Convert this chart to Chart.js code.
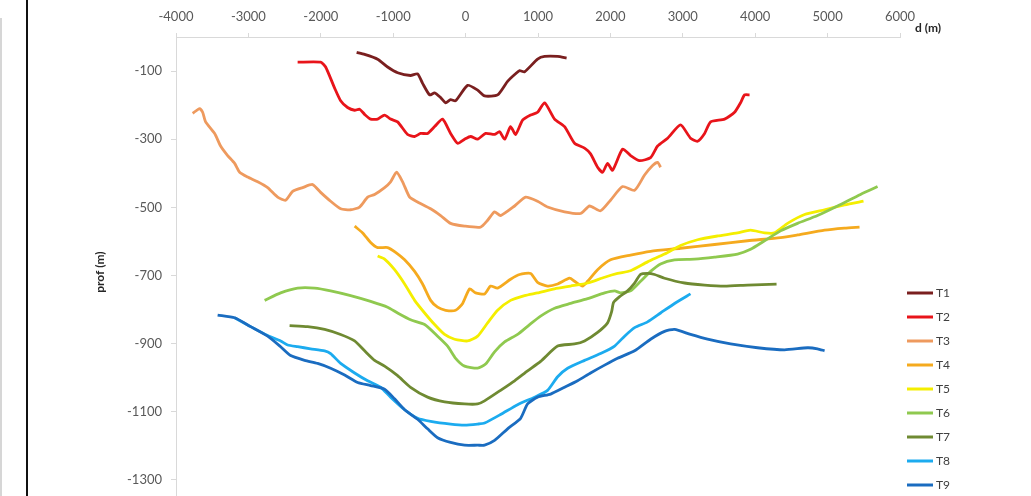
<!DOCTYPE html>
<html>
<head>
<meta charset="utf-8">
<title>Perfiles T1-T9</title>
<script src="https://cdn.jsdelivr.net/npm/chart.js@4.4.0/dist/chart.umd.min.js"></script>
<style>
    html, body { margin: 0; padding: 0; background: #fff; overflow: hidden; }
    #wrap { position: relative; width: 1031px; height: 524px; }
    #wrap canvas { position: absolute; left: 0; top: 0; }
    .rule-gray { position: absolute; left: 0; top: 18px; width: 2px; height: 506px; background: #d6d6d6; }
    .rule-black { position: absolute; left: 26px; top: 0; width: 2px; height: 524px; background: #111; }
</style>
</head>
<body>
<div id="wrap">
    <canvas id="profiles" width="1031" height="524"></canvas>
    <div class="rule-gray"></div>
    <div class="rule-black"></div>
</div>
<script>
// distancia d (m) y profundidad (m) de cada perfil
const t1Dist = [-1505, -1395, -1215, -1077, -939, -760, -663, -594, -497, -428, -345, -276, -207, -138, 28, 166, 262, 442, 580, 690, 746, 815, 994, 1091, 1271, 1395];
const t1Prof = [-45, -51, -65, -88, -105, -113, -108, -136, -170, -164, -178, -193, -184, -187, -142, -156, -173, -170, -130, -108, -99, -102, -65, -57, -57, -62];

const t2Dist = [-2320, -2002, -1933, -1809, -1726, -1630, -1533, -1464, -1395, -1312, -1215, -1119, -1036, -939, -801, -704, -621, -525, -428, -318, -207, -110, -14, 69, 166, 276, 400, 470, 539, 621, 690, 787, 898, 994, 1091, 1229, 1367, 1505, 1643, 1726, 1823, 1892, 1961, 2030, 2168, 2279, 2403, 2555, 2652, 2790, 2969, 3107, 3204, 3301, 3384, 3577, 3715, 3798, 3853, 3922];
const t2Prof = [-74, -74, -88, -150, -187, -207, -215, -212, -227, -241, -241, -229, -241, -249, -286, -292, -283, -283, -263, -241, -283, -312, -300, -292, -300, -283, -286, -278, -300, -263, -286, -244, -229, -221, -193, -241, -263, -312, -326, -343, -382, -397, -371, -391, -329, -348, -363, -354, -320, -297, -258, -297, -306, -283, -249, -241, -221, -193, -170, -170];

const t3Dist = [-3770, -3673, -3632, -3591, -3466, -3384, -3287, -3190, -3121, -3011, -2872, -2734, -2596, -2486, -2389, -2251, -2113, -2002, -1864, -1726, -1588, -1464, -1353, -1257, -1119, -1036, -953, -870, -773, -663, -483, -345, -207, -14, 207, 304, 400, 483, 677, 829, 994, 1132, 1367, 1588, 1712, 1864, 2002, 2168, 2334, 2472, 2583, 2652, 2693];
const t3Prof = [-224, -210, -221, -249, -283, -320, -348, -371, -397, -411, -425, -442, -470, -479, -453, -442, -433, -456, -482, -504, -507, -499, -470, -462, -442, -425, -397, -425, -470, -484, -504, -524, -547, -555, -558, -538, -513, -524, -496, -470, -482, -499, -513, -518, -496, -510, -479, -439, -450, -405, -377, -368, -382];

const t4Dist = [-1533, -1422, -1312, -1215, -1077, -967, -842, -704, -594, -483, -387, -276, -138, -41, 55, 138, 262, 345, 442, 621, 746, 898, 994, 1132, 1271, 1436, 1505, 1616, 1685, 1823, 2002, 2279, 2555, 2969, 3439, 3894, 4350, 4585, 4958, 5234, 5441];
const t4Prof = [-555, -575, -603, -618, -618, -632, -654, -688, -725, -773, -793, -802, -802, -782, -739, -751, -754, -731, -737, -711, -697, -694, -720, -731, -725, -708, -717, -731, -717, -683, -654, -640, -629, -620, -609, -598, -589, -581, -567, -561, -558];

const t5Dist = [-1215, -1119, -981, -842, -704, -566, -428, -290, -152, 28, 166, 304, 442, 621, 815, 994, 1229, 1450, 1685, 1920, 2099, 2279, 2513, 2748, 2969, 3204, 3480, 3756, 3936, 4129, 4267, 4447, 4682, 4958, 5234, 5496];
const t5Prof = [-643, -652, -683, -725, -773, -810, -844, -873, -887, -892, -878, -839, -802, -773, -759, -751, -739, -731, -722, -705, -694, -686, -660, -637, -612, -595, -584, -575, -567, -575, -575, -547, -521, -507, -493, -482];

const t6Dist = [-2776, -2555, -2320, -2085, -1864, -1588, -1312, -1077, -939, -760, -566, -387, -249, -138, -14, 166, 276, 400, 539, 718, 884, 1036, 1229, 1450, 1685, 1920, 2058, 2141, 2279, 2417, 2555, 2693, 2886, 3162, 3439, 3756, 3936, 4129, 4350, 4585, 4861, 5137, 5455, 5690];
const t6Prof = [-773, -751, -737, -737, -745, -759, -776, -793, -810, -830, -844, -878, -907, -943, -966, -972, -960, -924, -895, -873, -844, -819, -796, -782, -768, -751, -745, -751, -745, -717, -688, -666, -654, -652, -646, -637, -623, -598, -569, -547, -524, -496, -462, -439];

const t7Dist = [-2431, -2182, -1947, -1726, -1533, -1395, -1257, -1119, -939, -760, -525, -290, -14, 166, 262, 483, 677, 856, 1036, 1271, 1505, 1643, 1823, 1961, 2016, 2044, 2127, 2237, 2334, 2417, 2513, 2610, 2748, 3024, 3301, 3577, 3894, 4295];
const t7Prof = [-847, -850, -858, -873, -892, -921, -949, -966, -994, -1028, -1057, -1071, -1077, -1077, -1068, -1037, -1009, -980, -952, -907, -901, -892, -867, -839, -807, -779, -762, -745, -722, -697, -694, -697, -708, -722, -728, -731, -728, -725];

const t8Dist = [-3190, -2969, -2734, -2555, -2458, -2320, -2141, -1947, -1864, -1726, -1533, -1353, -1174, -1036, -842, -663, -483, -207, -14, 166, 262, 483, 718, 953, 1132, 1271, 1409, 1643, 1864, 2058, 2196, 2334, 2513, 2693, 2886, 3107];
const t8Prof = [-824, -850, -876, -892, -904, -909, -915, -921, -929, -958, -986, -1009, -1028, -1057, -1094, -1119, -1128, -1136, -1139, -1136, -1133, -1108, -1079, -1057, -1037, -997, -972, -949, -929, -907, -878, -853, -836, -810, -782, -754];

const t9Dist = [-3425, -3190, -2969, -2734, -2555, -2417, -2223, -2044, -1864, -1671, -1491, -1312, -1119, -981, -842, -663, -525, -387, -207, -14, 166, 262, 400, 580, 760, 856, 994, 1174, 1367, 1547, 1726, 1920, 2099, 2334, 2555, 2748, 2886, 3107, 3342, 3660, 4033, 4405, 4723, 4861, 4958];
const t9Prof = [-816, -824, -850, -878, -909, -935, -949, -958, -972, -992, -1014, -1023, -1034, -1062, -1094, -1122, -1150, -1176, -1190, -1198, -1198, -1198, -1184, -1150, -1119, -1077, -1057, -1048, -1028, -1009, -986, -963, -943, -921, -887, -864, -858, -873, -887, -901, -912, -918, -912, -915, -921];

const seriesNames = ['T1', 'T2', 'T3', 'T4', 'T5', 'T6', 'T7', 'T8', 'T9'];
const seriesDist = [t1Dist, t2Dist, t3Dist, t4Dist, t5Dist, t6Dist, t7Dist, t8Dist, t9Dist];
const seriesProf = [t1Prof, t2Prof, t3Prof, t4Prof, t5Prof, t6Prof, t7Prof, t8Prof, t9Prof];
const seriesColors = ['#7a1f1f', '#e8141a', '#ee9a5e', '#f5aa1e', '#f4ee00', '#8fc94f', '#6f8a32', '#1cabef', '#1a6cc0'];

const distTicks = [-4000, -3000, -2000, -1000, 0, 1000, 2000, 3000, 4000, 5000, 6000];
const profTicks = [-100, -300, -500, -700, -900, -1100, -1300];

const fontFamily = 'Lato, "Open Sans", sans-serif';
const labelFont = { family: fontFamily, size: 13 };

// leyenda vertical a la derecha del area de trazado
const sideLegend = {
    id: 'sideLegend',
    afterDraw(chart) {
        const ctx = chart.ctx;
        const x0 = chart.chartArea.right + 7;
        ctx.save();
        ctx.font = '12px ' + fontFamily;
        ctx.textBaseline = 'middle';
        ctx.textAlign = 'left';
        chart.data.datasets.forEach((ds, i) => {
            const y = 293 + i * 24;
            ctx.strokeStyle = ds.borderColor;
            ctx.lineWidth = 3;
            ctx.beginPath();
            ctx.moveTo(x0, y);
            ctx.lineTo(x0 + 26, y);
            ctx.stroke();
            ctx.fillStyle = '#404040';
            ctx.fillText(ds.label, x0 + 29, y);
        });
        // titulo del eje x, al final del eje superior
        ctx.font = 'bold 12px ' + fontFamily;
        ctx.fillStyle = '#262626';
        ctx.fillText('d (m)', chart.chartArea.right + 15, 28);
        ctx.restore();
    }
};

const datasets = seriesNames.map((name, i) => ({
    label: name,
    data: seriesDist[i].map((d, j) => ({ x: d, y: seriesProf[i][j] })),
    borderColor: seriesColors[i],
    backgroundColor: seriesColors[i],
    borderWidth: 2.8,
    pointRadius: 0,
    tension: 0.2,
    showLine: true,
    fill: false,
    order: seriesNames.length - i
}));

new Chart(document.getElementById('profiles').getContext('2d'), {
    type: 'scatter',
    data: { datasets: datasets },
    options: {
        responsive: false,
        animation: false,
        layout: { padding: { left: 0, right: 131, top: 0, bottom: 0 } },
        plugins: {
            legend: { display: false },
            tooltip: { enabled: false }
        },
        scales: {
            x: {
                type: 'linear',
                position: 'top',
                min: -4000,
                max: 6000,
                afterFit(scale) { scale.height = 37; },
                afterBuildTicks(scale) { scale.ticks = distTicks.map(v => ({ value: v })); },
                ticks: {
                    color: '#595959',
                    font: labelFont,
                    padding: 8,
                    maxRotation: 0,
                    callback: v => String(v)
                },
                grid: { drawOnChartArea: false, drawTicks: true, tickLength: 4, color: '#d9d9d9' },
                border: { color: '#d9d9d9', width: 1 }
            },
            y: {
                type: 'linear',
                min: -1380,
                max: 0,
                afterFit(scale) { scale.width = 176; },
                afterBuildTicks(scale) { scale.ticks = profTicks.map(v => ({ value: v })); },
                ticks: {
                    color: '#595959',
                    font: labelFont,
                    padding: 9,
                    callback: v => String(v)
                },
                grid: { drawOnChartArea: false, drawTicks: true, tickLength: 5, color: '#d9d9d9' },
                border: { color: '#d9d9d9', width: 1 },
                title: {
                    display: true,
                    text: 'prof (m)',
                    color: '#262626',
                    font: { family: fontFamily, size: 12, weight: 'bold' },
                    padding: { top: 93, bottom: 0 }
                }
            }
        }
    },
    plugins: [sideLegend]
});
</script>
</body>
</html>
